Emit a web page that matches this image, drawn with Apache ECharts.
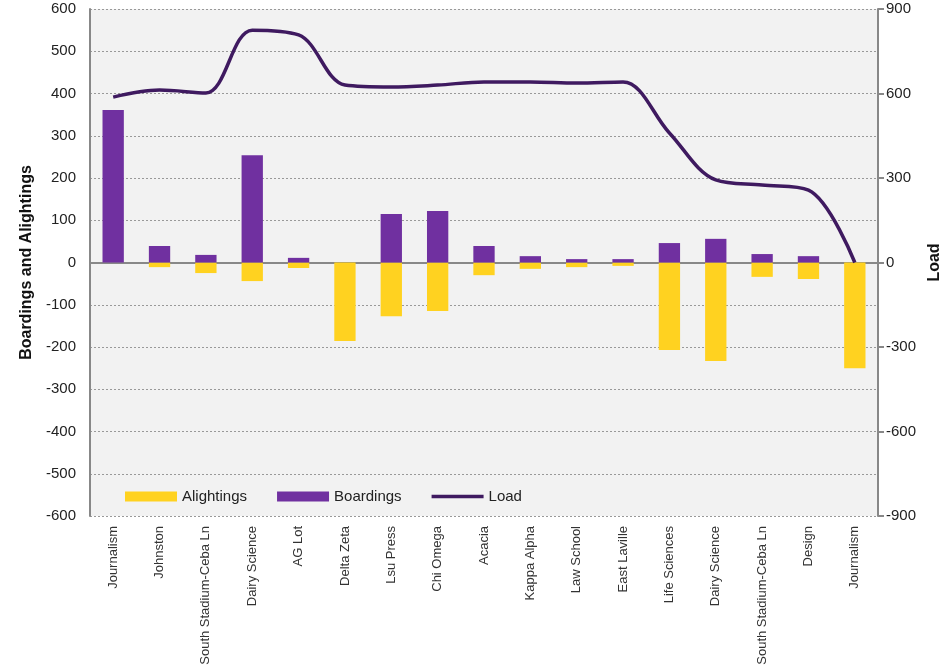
<!DOCTYPE html>
<html><head><meta charset="utf-8">
<script src="https://cdn.jsdelivr.net/npm/echarts@6/dist/echarts.min.js"></script>
<style>html,body{margin:0;padding:0;background:#fff}#c{width:947px;height:671px}</style>
</head><body><div id="c"></div>
<script>
const categories = ['Journalism','Johnston','South Stadium-Ceba Ln','Dairy Science','AG Lot','Delta Zeta','Lsu Press','Chi Omega','Acacia','Kappa Alpha','Law School','East Laville','Life Sciences','Dairy Science','South Stadium-Ceba Ln','Design','Journalism'];
const alightings = [0,-11,-25,-44,-13,-186,-127,-115,-30,-15,-11,-8,-207,-233,-34,-39,-250];
const boardings = [361,39,18,254,11,0,115,122,39,15,8,8,46,56,20,15,0];
const load = [587,612,602,825,808,630,623,630,641,641,637,641,460,293,275,257,0];
const leftTicks = {min:-600,max:600,interval:100};
const rightTicks = {min:-900,max:900,interval:300};

const FONT = '"Liberation Sans Narrow", "Liberation Sans", Arial, sans-serif';
const chart = echarts.init(document.getElementById('c'));
chart.setOption({
  animation:false,
  backgroundColor:'#ffffff',
  grid:{left:90,right:69,top:9,bottom:155,outerBoundsMode:'none',containLabel:false,show:true,backgroundColor:'#f2f2f2',borderWidth:0},
  legend:{
    left:120,top:484,itemWidth:52,itemHeight:10,itemGap:30,
    textStyle:{fontFamily:FONT,fontSize:15,color:'#222'},
    data:[{name:'Alightings',icon:'rect'},{name:'Boardings',icon:'rect'},{name:'Load',icon:'path://M0,0 L52,0 L52,3.5 L0,3.5 Z'}]
  },
  xAxis:{
    type:'category',data:categories,
    axisLine:{onZero:true,lineStyle:{color:'#888',width:2}},
    axisTick:{show:false},
    axisLabel:{rotate:90,interval:0,fontFamily:FONT,fontSize:13,color:'#333',margin:10}
  },
  yAxis:[{
    type:'value',min:leftTicks.min,max:leftTicks.max,interval:leftTicks.interval,
    name:'Boardings and Alightings',nameLocation:'middle',nameGap:55,
    nameTextStyle:{fontFamily:FONT,fontSize:16,fontWeight:'bold',color:'#111'},
    axisLine:{show:true,lineStyle:{color:'#888',width:2}},
    axisTick:{show:false},
    axisLabel:{fontFamily:FONT,fontSize:15,color:'#222',margin:14},
    splitLine:{show:true,lineStyle:{color:'#999',type:[2,2],width:1}}
  },{
    type:'value',position:'right',min:rightTicks.min,max:rightTicks.max,interval:rightTicks.interval,
    name:'Load',nameLocation:'middle',nameGap:48,
    nameTextStyle:{fontFamily:FONT,fontSize:16,fontWeight:'bold',color:'#111'},
    axisLine:{show:true,lineStyle:{color:'#888',width:2}},
    axisTick:{show:true,length:6,lineStyle:{color:'#888',width:2}},
    axisLabel:{fontFamily:FONT,fontSize:15,color:'#222',margin:8},
    splitLine:{show:false}
  }],
  series:[
    {name:'Alightings',type:'bar',stack:'s',data:alightings,barWidth:'46%',itemStyle:{color:'#ffd220'}},
    {name:'Boardings',type:'bar',stack:'s',data:boardings,barWidth:'46%',itemStyle:{color:'#7030a0'}},
    {name:'Load',type:'line',yAxisIndex:1,data:load,smooth:0.35,symbol:'none',
     lineStyle:{color:'#3f1a60',width:3.5},itemStyle:{color:'#3f1a60'},z:5}
  ]
});
</script></body></html>
